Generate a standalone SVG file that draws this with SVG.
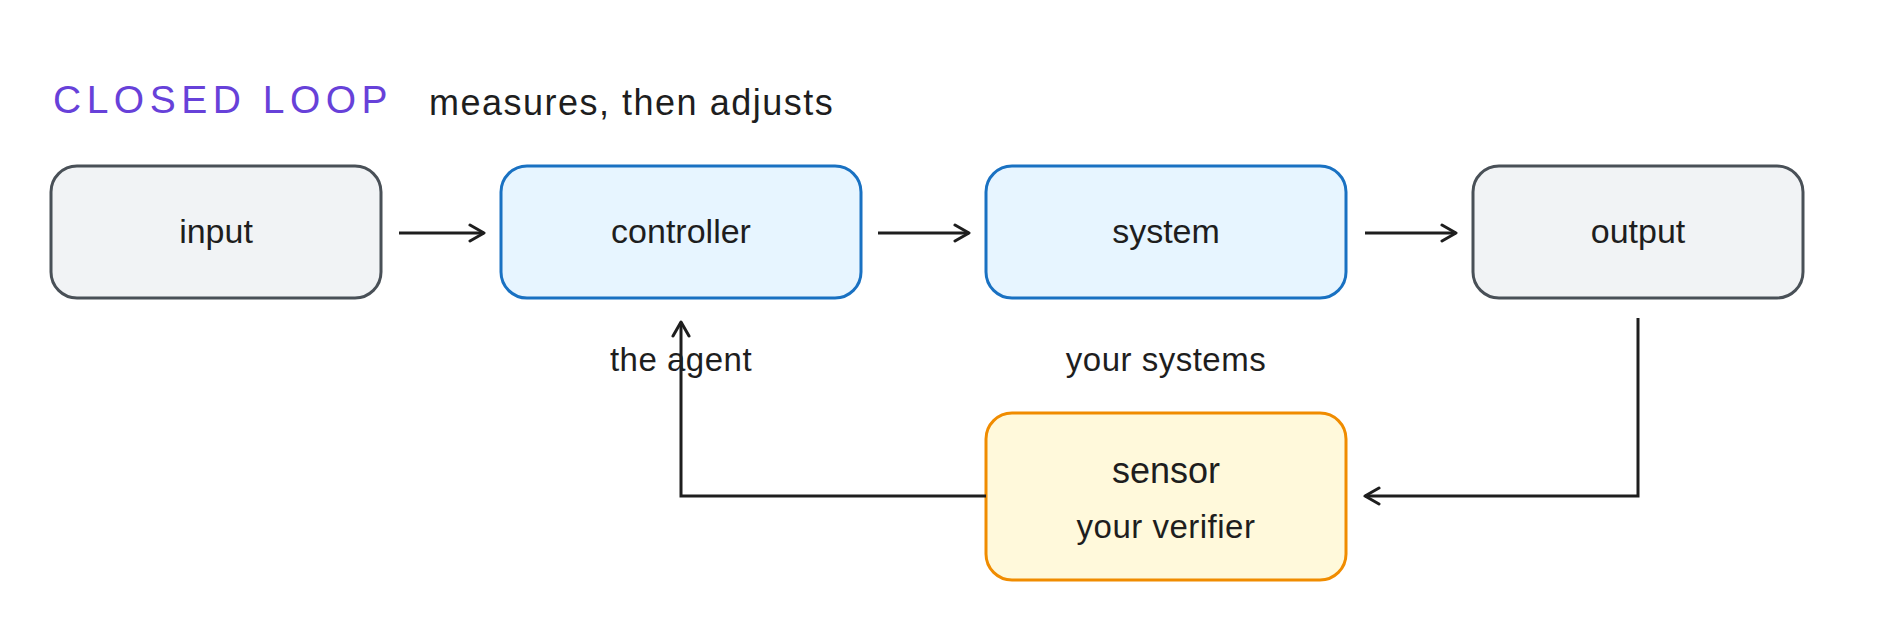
<svg xmlns="http://www.w3.org/2000/svg" width="1902" height="624" viewBox="0 0 1902 624">
  <defs>
    <marker id="arr" viewBox="0 0 20 20" refX="18" refY="10" markerWidth="20" markerHeight="20" markerUnits="userSpaceOnUse" orient="auto">
      <path d="M4 2 L18 10 L4 18" fill="none" stroke="#1e1e1e" stroke-width="3" stroke-linecap="round" stroke-linejoin="round"/>
    </marker>
  </defs>
  <style>
    text { font-family: "Liberation Sans", "Noto Sans", sans-serif; fill: #1e1e1e; text-anchor: middle; }
    .gray { fill: #f1f3f5; stroke: #495057; stroke-width: 3; }
    .blue { fill: #e7f5ff; stroke: #1971c2; stroke-width: 3; }
    .yellow { fill: #fff9db; stroke: #f08c00; stroke-width: 3; }
    .lbl { font-size: 34px; }
    .sub { font-size: 33px; letter-spacing: 0.5px; }
    .conn path { fill: none; stroke: #1e1e1e; stroke-width: 3; marker-end: url(#arr); }
  </style>
  <rect width="1902" height="624" fill="#ffffff"/>

  <g id="title">
    <text x="53" y="113" style="font-size:39px; fill:#6741d9; text-anchor:start; letter-spacing:5.5px">CLOSED LOOP</text>
    <text x="429" y="115" style="text-anchor:start; font-size:36px; letter-spacing:1.5px">measures, then adjusts</text>
  </g>

  <g id="input">
    <rect class="gray" x="51" y="166" width="330" height="132" rx="26"/>
    <text class="lbl" x="216" y="243">input</text>
  </g>
  <g id="controller">
    <rect class="blue" x="501" y="166" width="360" height="132" rx="26"/>
    <text class="lbl" x="681" y="243">controller</text>
  </g>
  <g id="system">
    <rect class="blue" x="986" y="166" width="360" height="132" rx="26"/>
    <text class="lbl" x="1166" y="243">system</text>
  </g>
  <g id="output">
    <rect class="gray" x="1473" y="166" width="330" height="132" rx="26"/>
    <text class="lbl" x="1638" y="243">output</text>
  </g>
  <g id="sensor">
    <rect class="yellow" x="986" y="413" width="360" height="167" rx="26"/>
    <text x="1166" y="483" style="font-size:36px">sensor</text>
    <text class="sub" x="1166" y="538">your verifier</text>
  </g>

  <g id="labels">
    <text class="sub" x="681" y="371">the agent</text>
    <text class="sub" x="1166" y="371">your systems</text>
  </g>

  <g id="connectors" class="conn">
    <path d="M399 233 L484 233"/>
    <path d="M878 233 L969 233"/>
    <path d="M1365 233 L1456 233"/>
    <path d="M1638 318 L1638 496 L1365 496"/>
    <path d="M986 496 L681 496 L681 322"/>
  </g>
</svg>
